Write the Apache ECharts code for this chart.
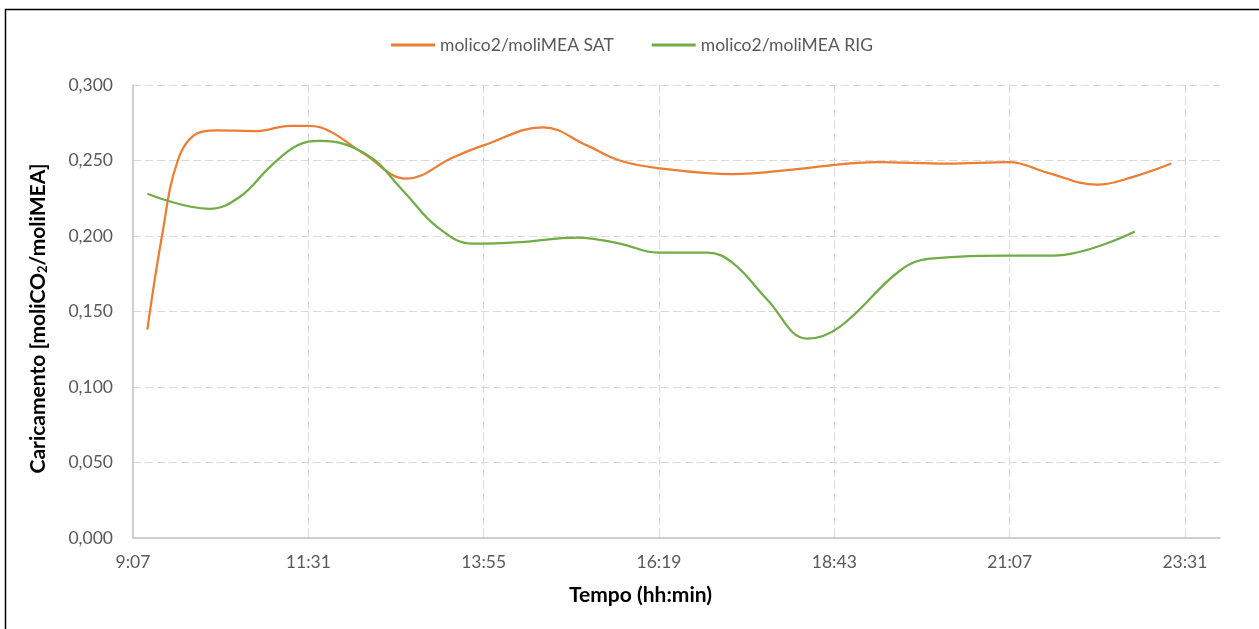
<!DOCTYPE html>
<html>
<head>
<meta charset="utf-8">
<script src="https://cdn.jsdelivr.net/npm/echarts@6/dist/echarts.min.js"></script>
<style>
html,body{margin:0;padding:0;background:#fff;}
#chart{width:1259px;height:629px;}
</style>
</head>
<body>
<div id="chart"></div>
<script>
// Axis: Excel day fractions 0.38 .. 1.0, step 0.1 (in minutes)
const axisStartMin = 547.2;   // 9:07
const axisEndMin = 1440;      // 24:00
const axisStepMin = 144;      // 2:24
const yTicks = [0, 0.05, 0.10, 0.15, 0.20, 0.25, 0.30];

const seriesNames = ["molico2/moliMEA SAT", "molico2/moliMEA RIG"];

const satTimes = ["9:19","9:31","9:44","10:00","10:16","10:49","11:16","11:30","11:41","12:16","12:52","13:30","13:55","14:44","15:20","15:47","16:18","17:20","18:09","18:42","19:18","20:16","21:07","21:38","22:19","22:48","23:20"];
const satValues = [0.138,0.200,0.250,0.268,0.270,0.2695,0.273,0.273,0.272,0.255,0.238,0.252,0.260,0.272,0.260,0.250,0.245,0.241,0.244,0.247,0.249,0.248,0.249,0.242,0.234,0.239,0.248];

const rigTimes = ["9:19","10:10","10:35","11:00","11:22","11:41","12:19","12:49","13:17","13:46","14:25","15:12","15:47","16:18","16:59","17:20","17:48","18:21","18:48","19:37","20:02","21:07","21:43","22:50"];
const rigValues = [0.228,0.218,0.226,0.246,0.260,0.263,0.254,0.230,0.206,0.195,0.196,0.199,0.195,0.189,0.189,0.182,0.158,0.132,0.140,0.177,0.185,0.187,0.187,0.203];

function toMin(s){ const p = s.split(":"); return (+p[0])*60 + (+p[1]); }
function pairs(times, vals){ return times.map((t,i)=>[toMin(t)-axisStartMin, vals[i]]); }
function fmtTime(v){ const m = Math.floor(v + axisStartMin + 1e-6); const h = Math.floor(m/60); const mm = m%60; return h + ":" + (mm<10?"0":"") + mm; }

const FONT = "Lato, 'Open Sans', sans-serif";
const chart = echarts.init(document.getElementById('chart'), null, {renderer:'canvas'});
chart.setOption({
  animation:false,
  backgroundColor:'#ffffff',
  graphic:[{type:'rect', shape:{x:5.5,y:9.5,width:1262,height:630}, style:{fill:'none', stroke:'#000', lineWidth:1.5}, silent:true}],
  legend:{
    data:seriesNames, left:386, top:31, itemWidth:44, itemHeight:3, itemGap:38, icon:'rect',
    textStyle:{color:'#595959', fontSize:17.5, fontFamily:FONT}
  },
  grid:{left:133, top:85, right:39, bottom:91, containLabel:false},
  xAxis:{
    type:'value', min:0, max:axisEndMin-axisStartMin, interval:axisStepMin,
    name:'Tempo (hh:min)', nameLocation:'middle', nameGap:47,
    nameTextStyle:{color:'#000', fontSize:21, fontWeight:'bold', fontFamily:FONT, padding:[0,72,0,0]},
    axisLine:{show:true, lineStyle:{color:'#BFBFBF', width:1.5}},
    axisTick:{show:false},
    axisLabel:{color:'#595959', fontSize:17.5, fontFamily:FONT, margin:15, showMaxLabel:false, formatter:fmtTime},
    splitLine:{show:true, showMinLine:false, showMaxLine:false, lineStyle:{color:'#D9D9D9', type:[8,4], width:1}}
  },
  yAxis:{
    type:'value', min:yTicks[0], max:yTicks[yTicks.length-1], interval:0.05,
    name:'Caricamento [moliCO{sub|2}/moliMEA]', nameLocation:'middle', nameGap:84,
    nameTextStyle:{color:'#000', fontSize:21, fontWeight:'bold', fontFamily:FONT, padding:[0,14,0,0],
      rich:{sub:{fontSize:13, fontWeight:'bold', color:'#000', fontFamily:FONT, verticalAlign:'bottom', padding:[9,0,0,0]}}},
    axisLine:{show:true, lineStyle:{color:'#BFBFBF', width:1.5}},
    axisTick:{show:false},
    axisLabel:{color:'#595959', fontSize:17.5, fontFamily:FONT, margin:20, formatter:v=>v.toFixed(3).replace('.',',')},
    splitLine:{show:true, showMinLine:false, lineStyle:{color:'#D9D9D9', type:[8,4], width:1}}
  },
  series:[
    {name:seriesNames[0], type:'line', data:pairs(satTimes,satValues), smooth:0.4, symbol:'none', showSymbol:false,
     lineStyle:{color:'#ED7D31', width:2.25}, itemStyle:{color:'#ED7D31'}},
    {name:seriesNames[1], type:'line', data:pairs(rigTimes,rigValues), smooth:0.4, symbol:'none', showSymbol:false,
     lineStyle:{color:'#70AD47', width:2.25}, itemStyle:{color:'#70AD47'}}
  ]
});
</script>
</body>
</html>
